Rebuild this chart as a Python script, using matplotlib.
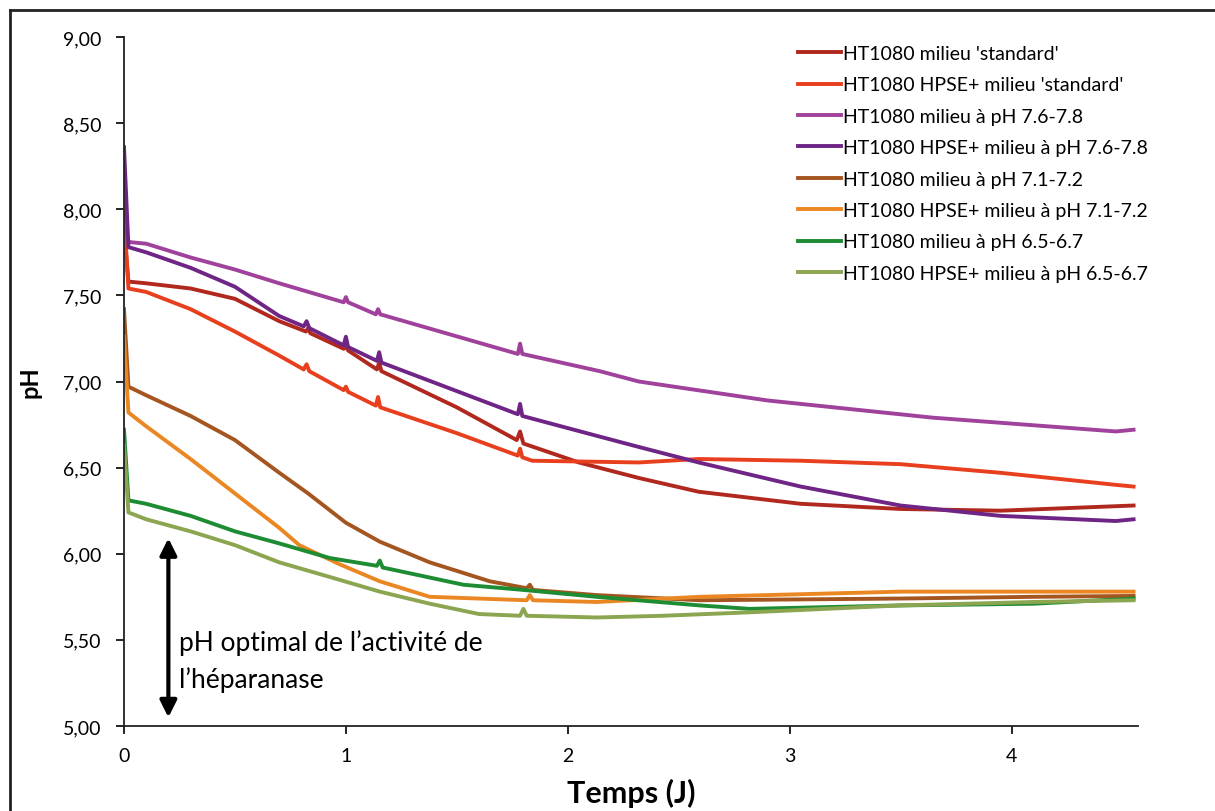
import matplotlib

matplotlib.use("Agg")
import matplotlib.pyplot as plt
from matplotlib.lines import Line2D
from matplotlib.ticker import FuncFormatter

plt.rcParams["font.family"] = ["Lato", "DejaVu Sans"]

# time (days) and pH, per series
t_std = [0, 0.02, 0.1, 0.3, 0.5, 0.70, 0.82, 0.83, 0.84, 0.99, 1.0, 1.01, 1.14, 1.15, 1.16,
         1.5, 1.77, 1.785, 1.80, 2.05, 2.32, 2.59, 3.05, 3.5, 3.95, 4.55]
ph_std = [7.88, 7.58, 7.57, 7.54, 7.48, 7.35, 7.29, 7.31, 7.28, 7.19, 7.21, 7.18, 7.07, 7.11, 7.06,
          6.85, 6.66, 6.71, 6.64, 6.53, 6.44, 6.36, 6.29, 6.26, 6.25, 6.28]

t_hpse_std = [0, 0.02, 0.1, 0.3, 0.5, 0.70, 0.81, 0.823, 0.835, 0.99, 1.0, 1.01, 1.135, 1.145, 1.155,
              1.5, 1.775, 1.785, 1.795, 1.84, 2.32, 2.59, 3.05, 3.5, 3.95, 4.47, 4.55]
ph_hpse_std = [7.98, 7.54, 7.52, 7.42, 7.29, 7.15, 7.07, 7.10, 7.06, 6.95, 6.97, 6.94, 6.86, 6.91, 6.85,
               6.70, 6.57, 6.61, 6.56, 6.54, 6.53, 6.55, 6.54, 6.52, 6.47, 6.40, 6.39]

t_78 = [0, 0.02, 0.1, 0.3, 0.5, 0.70, 0.99, 1.0, 1.01, 1.135, 1.145, 1.155, 1.775, 1.785, 1.795,
        2.144, 2.32, 2.9, 3.645, 4.47, 4.55]
ph_78 = [7.95, 7.81, 7.80, 7.72, 7.65, 7.57, 7.46, 7.49, 7.46, 7.39, 7.42, 7.39, 7.16, 7.22, 7.16,
         7.06, 7.00, 6.89, 6.79, 6.71, 6.72]

t_hpse_78 = [0, 0.02, 0.1, 0.3, 0.5, 0.70, 0.81, 0.823, 0.835, 0.99, 1.0, 1.01, 1.14, 1.15, 1.16,
             1.775, 1.785, 1.795, 2.144, 2.32, 2.59, 3.05, 3.5, 3.95, 4.47, 4.55]
ph_hpse_78 = [8.36, 7.78, 7.75, 7.66, 7.55, 7.38, 7.32, 7.35, 7.31, 7.21, 7.26, 7.20, 7.12, 7.17, 7.11,
              6.81, 6.87, 6.80, 6.68, 6.62, 6.53, 6.39, 6.28, 6.22, 6.19, 6.20]

t_72 = [0, 0.02, 0.1, 0.3, 0.5, 0.7, 0.83, 1.0, 1.153, 1.378, 1.649, 1.815, 1.829, 1.843,
        2.13, 2.595, 3.5, 4.10, 4.55]
ph_72 = [7.42, 6.97, 6.92, 6.80, 6.66, 6.47, 6.35, 6.18, 6.07, 5.95, 5.84, 5.80, 5.82, 5.79,
         5.76, 5.73, 5.74, 5.75, 5.755]

t_hpse_72 = [0, 0.02, 0.1, 0.3, 0.5, 0.7, 0.79, 0.97, 1.153, 1.378, 1.815, 1.829, 1.843,
             2.13, 2.595, 3.5, 4.10, 4.55]
ph_hpse_72 = [7.26, 6.82, 6.74, 6.55, 6.35, 6.15, 6.05, 5.94, 5.84, 5.75, 5.73, 5.76, 5.73,
              5.72, 5.75, 5.78, 5.78, 5.78]

t_67 = [0, 0.02, 0.1, 0.3, 0.5, 0.7, 0.928, 1.14, 1.153, 1.166, 1.53, 1.80, 2.13, 2.595,
        2.82, 3.5, 4.10, 4.55]
ph_67 = [6.72, 6.31, 6.29, 6.22, 6.13, 6.06, 5.975, 5.93, 5.96, 5.92, 5.82, 5.79, 5.75, 5.70,
         5.68, 5.70, 5.71, 5.74]

t_hpse_67 = [0, 0.02, 0.1, 0.3, 0.5, 0.7, 0.928, 1.153, 1.378, 1.60, 1.785, 1.80, 1.815,
             2.13, 2.43, 2.82, 3.5, 4.10, 4.55]
ph_hpse_67 = [6.63, 6.24, 6.20, 6.13, 6.05, 5.95, 5.865, 5.78, 5.71, 5.65, 5.64, 5.68, 5.64,
              5.63, 5.64, 5.66, 5.70, 5.72, 5.73]

labels = [
    "HT1080 milieu 'standard'",
    "HT1080 HPSE+ milieu 'standard'",
    "HT1080 milieu à pH 7.6-7.8",
    "HT1080 HPSE+ milieu à pH 7.6-7.8",
    "HT1080 milieu à pH 7.1-7.2",
    "HT1080 HPSE+ milieu à pH 7.1-7.2",
    "HT1080 milieu à pH 6.5-6.7",
    "HT1080 HPSE+ milieu à pH 6.5-6.7",
]
colors = ["#B0281E", "#E8401E", "#A0429C", "#6F2585", "#A5551F", "#EB8723", "#1E8C32", "#8CA550"]
series = [
    (t_std, ph_std), (t_hpse_std, ph_hpse_std),
    (t_78, ph_78), (t_hpse_78, ph_hpse_78),
    (t_72, ph_72), (t_hpse_72, ph_hpse_72),
    (t_67, ph_67), (t_hpse_67, ph_hpse_67),
]

fig = plt.figure(figsize=(12.15, 8.12), dpi=100)
ax = fig.add_axes([124 / 1215, 1 - 727 / 812, (1138 - 124) / 1215, (727 - 38) / 812])

handles = []
for (t, ph), lab, col in zip(series, labels, colors):
    (h,) = ax.plot(t, ph, color=col, lw=2.8, solid_joinstyle="round", label=lab)
    handles.append(h)

ax.set_xlim(0, 4.57)
ax.set_ylim(5, 9)
ax.set_xticks([0, 1, 2, 3, 4])
ax.set_yticks([5, 5.5, 6, 6.5, 7, 7.5, 8, 8.5, 9])
ax.yaxis.set_major_formatter(FuncFormatter(lambda v, _: f"{v:.2f}".replace(".", ",")))
ax.tick_params(axis="y", direction="out", length=6, width=1.2, pad=10, labelsize=14)
ax.tick_params(axis="x", direction="out", length=6, width=1.2, pad=9, labelsize=14)
for side in ("top", "right"):
    ax.spines[side].set_visible(False)
for side in ("left", "bottom"):
    ax.spines[side].set_linewidth(1.3)
    ax.spines[side].set_color("#222222")

ax.set_ylabel("pH", fontsize=17, fontweight="bold", labelpad=16)
ax.set_xlabel("Temps (J)", fontsize=22, fontweight="bold", labelpad=10)

# optimal heparanase pH range
ax.annotate("", xy=(0.2, 5.05), xytext=(0.2, 6.09),
            arrowprops=dict(arrowstyle="<|-|>", lw=3, color="black", mutation_scale=25,
                            shrinkA=0, shrinkB=0))
ax.text(0.25, 5.56, "pH optimal de l’activité de\nl’héparanase", fontsize=19,
        va="top", ha="left", linespacing=1.5)

fig.legend(handles=handles, loc="upper left", bbox_to_anchor=(798 / 1215, 1 - 46 / 812),
           frameon=False, fontsize=14, handlelength=2.2, handletextpad=0.1,
           labelspacing=0.74, borderpad=0, borderaxespad=0)

# outer frame of the figure (only top and left edges visible)
fx, fy = 10.5 / 1215, 1 - 10.5 / 812
fig.add_artist(Line2D([fx, fx], [0, fy], transform=fig.transFigure, color="#222222", lw=2))
fig.add_artist(Line2D([fx, 1], [fy, fy], transform=fig.transFigure, color="#222222", lw=2))

fig.savefig("out.png", dpi=100)
